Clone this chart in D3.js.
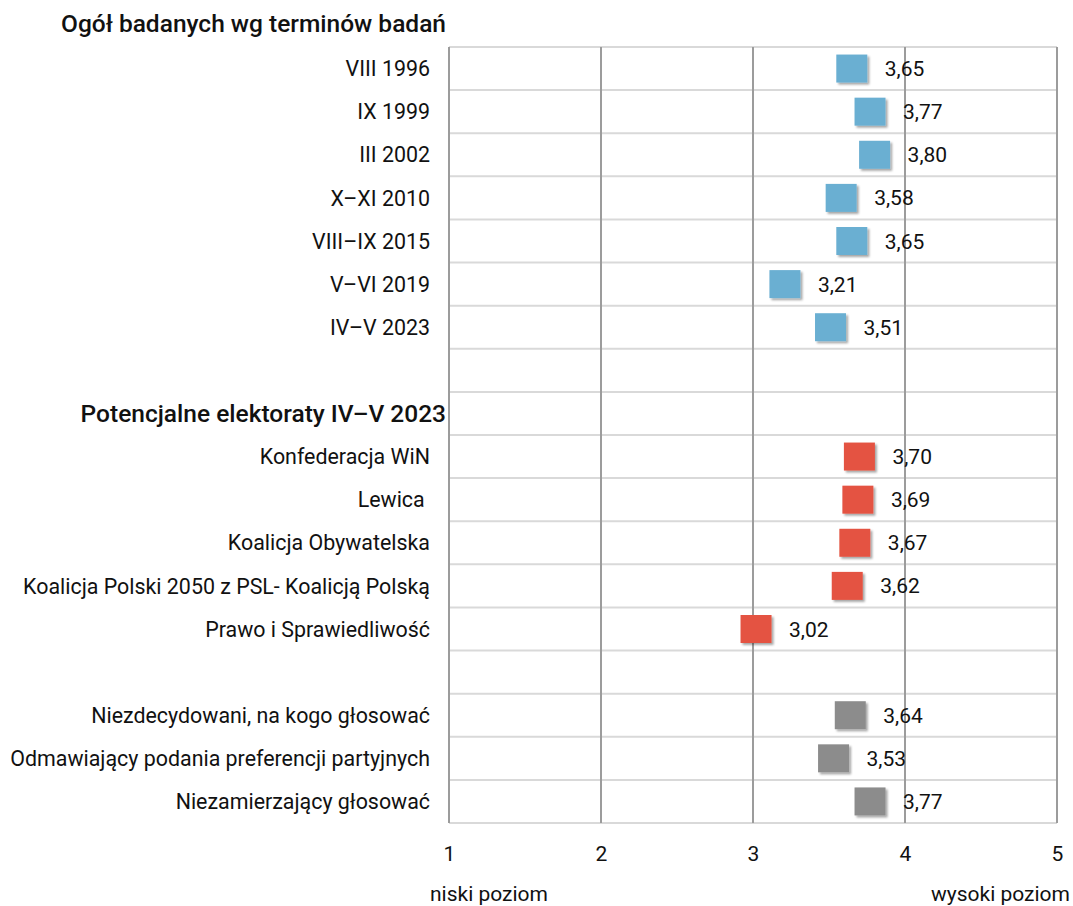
<!DOCTYPE html>
<html>
<head>
<meta charset="utf-8">
<script src="https://cdn.jsdelivr.net/npm/d3@7"></script>
<style>
  body { margin: 0; background: #fff; }
  text { font-family: Roboto, "Noto Sans", sans-serif; fill: #111; }
</style>
</head>
<body>
<svg width="1073" height="906"></svg>
<script>
const title = 'Ogół badanych wg terminów badań';
const rowLabels = [
  'VIII 1996', 'IX 1999', 'III 2002', 'X–XI 2010', 'VIII–IX 2015', 'V–VI 2019', 'IV–V 2023',
  '', 'Potencjalne elektoraty IV–V 2023',
  'Konfederacja WiN', 'Lewica ', 'Koalicja Obywatelska',
  'Koalicja Polski 2050 z PSL- Koalicją Polską', 'Prawo i Sprawiedliwość',
  '', 'Niezdecydowani, na kogo głosować',
  'Odmawiający podania preferencji partyjnych', 'Niezamierzający głosować'
];
const values = [3.65, 3.77, 3.80, 3.58, 3.65, 3.21, 3.51,
  null, null,
  3.70, 3.69, 3.67, 3.62, 3.02,
  null,
  3.64, 3.53, 3.77];
const groups = ['ogol', 'ogol', 'ogol', 'ogol', 'ogol', 'ogol', 'ogol',
  null, 'header',
  'partie', 'partie', 'partie', 'partie', 'partie',
  null,
  'inne', 'inne', 'inne'];
const xTicks = [1, 2, 3, 4, 5];
const lowLabel = 'niski poziom';
const highLabel = 'wysoki poziom';

(function() {
  const svg = d3.select('svg');
  const colors = { ogol: '#6aafd2', partie: '#e45342', inne: '#8c8c8c' };
  const pl = d3.formatLocale({ decimal: ',', thousands: ' ', grouping: [3], currency: ['', ' zł'] });
  const fmt = pl.format('.2f');

  const x = d3.scaleLinear().domain([1, 5]).range([449, 1057]);
  const y = d3.scaleBand().domain(d3.range(rowLabels.length)).range([47, 823]).padding(0);

  const defs = svg.append('defs');
  const f = defs.append('filter').attr('id', 'shadow')
    .attr('x', '-20%').attr('y', '-20%').attr('width', '150%').attr('height', '150%');
  f.append('feDropShadow').attr('dx', 2).attr('dy', 2).attr('stdDeviation', 1.2)
    .attr('flood-color', '#000').attr('flood-opacity', 0.35);

  const grid = svg.append('g');
  // horizontal lines between rows
  grid.selectAll('line.h')
    .data(d3.range(rowLabels.length + 1))
    .join('line')
    .attr('class', 'h')
    .attr('x1', x(1)).attr('x2', x(5))
    .attr('y1', i => i < rowLabels.length ? y(i) : y.range()[1])
    .attr('y2', i => i < rowLabels.length ? y(i) : y.range()[1])
    .attr('stroke', '#d9d9d9').attr('stroke-width', 2);

  // vertical lines
  grid.selectAll('line.v')
    .data(xTicks)
    .join('line')
    .attr('class', 'v')
    .attr('x1', d => x(d)).attr('x2', d => x(d))
    .attr('y1', y.range()[0]).attr('y2', y.range()[1])
    .attr('stroke', '#9c9c9c').attr('stroke-width', 2);

  // title
  svg.append('text')
    .attr('x', 446).attr('y', 26)
    .attr('text-anchor', 'end').attr('dominant-baseline', 'middle')
    .style('font-size', '24.5px').style('font-weight', 500)
    .text(title);

  // row labels
  svg.append('g').selectAll('text')
    .data(rowLabels)
    .join('text')
    .attr('x', (d, i) => groups[i] === 'header' ? 446 : 430)
    .attr('y', (d, i) => y(i) + y.bandwidth() / 2 + 2)
    .attr('text-anchor', 'end').attr('dominant-baseline', 'middle')
    .style('font-size', (d, i) => groups[i] === 'header' ? '24.5px' : '21.4px')
    .style('font-weight', (d, i) => groups[i] === 'header' ? 500 : 400)
    .style('white-space', 'pre')
    .text(d => d);

  const pts = values.map((v, i) => ({ v, i, g: groups[i] })).filter(d => d.v != null);
  const sq = { w: 31, h: 28 };

  svg.append('g').selectAll('rect')
    .data(pts)
    .join('rect')
    .attr('x', d => x(d.v) - sq.w / 2)
    .attr('y', d => y(d.i) + y.bandwidth() / 2 - sq.h / 2)
    .attr('width', sq.w).attr('height', sq.h)
    .attr('fill', d => colors[d.g])
    .attr('filter', 'url(#shadow)');

  svg.append('g').selectAll('text')
    .data(pts)
    .join('text')
    .attr('x', d => x(d.v) + 33)
    .attr('y', d => y(d.i) + y.bandwidth() / 2 + 2)
    .attr('dominant-baseline', 'middle')
    .style('font-size', '21px')
    .text(d => fmt(d.v));

  // x axis
  const axis = svg.append('g')
    .attr('transform', `translate(0, 846)`)
    .call(d3.axisBottom(x).tickValues(xTicks).tickSize(0).tickPadding(0).tickFormat(d3.format('d')));
  axis.select('.domain').remove();
  axis.selectAll('text')
    .style('font-family', 'Roboto, sans-serif')
    .style('font-size', '21px')
    .attr('fill', '#111');

  svg.append('text')
    .attr('x', 489).attr('y', 895)
    .attr('text-anchor', 'middle').attr('dominant-baseline', 'middle')
    .style('font-size', '21px')
    .text(lowLabel);
  svg.append('text')
    .attr('x', 1070).attr('y', 895)
    .attr('text-anchor', 'end').attr('dominant-baseline', 'middle')
    .style('font-size', '21px')
    .text(highLabel);
})();
</script>
</body>
</html>
